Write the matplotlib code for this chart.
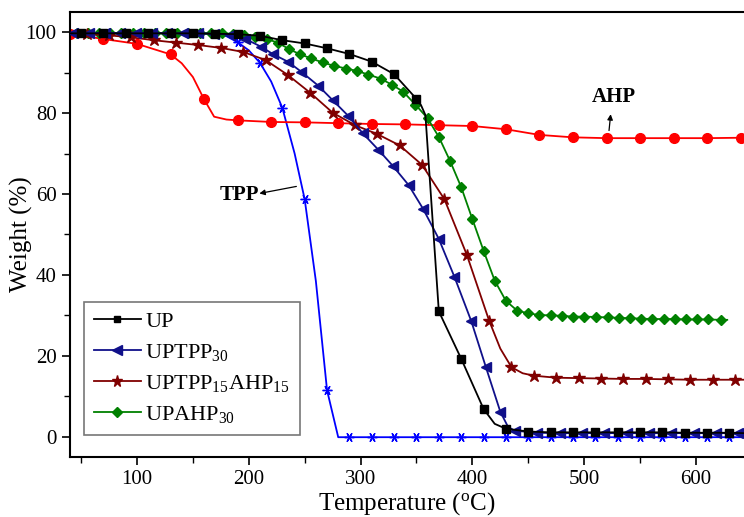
import numpy as np
import matplotlib
matplotlib.use("Agg")
import matplotlib.pyplot as plt

plt.rcParams['font.family'] = ['Liberation Serif', 'DejaVu Serif']
plt.rcParams['mathtext.fontset'] = 'custom'
plt.rcParams['mathtext.rm'] = 'Liberation Serif'
plt.rcParams['mathtext.it'] = 'Liberation Serif:italic'

# --- data (temperature in C, weight in %) ---
# points listed in *_nomark carry the line only, no marker
up_T = [40, 50, 70, 90, 110, 130, 150, 170, 190, 210, 230, 250, 270, 290, 310, 330, 350,
        354, 358, 370, 390, 410, 420, 430, 450, 470, 490, 510, 530, 550, 570, 590, 610, 630, 643]
up_W = [99.7, 99.7, 99.7, 99.7, 99.7, 99.7, 99.7, 99.6, 99.5, 99.1, 98.0, 97.2, 96.0, 94.6, 92.7, 89.6, 83.5,
        82.0, 79.5, 31.0, 19.3, 6.9, 3.2, 2.0, 1.3, 1.1, 1.1, 1.1, 1.1, 1.1, 1.1, 1.0, 1.0, 1.0, 0.9]
up_nomark = [40, 354, 358, 420, 643]

tpp30_T = [40, 43, 57, 71, 85, 99, 113, 127, 141, 155, 169, 183, 197, 211, 222, 235, 247, 262, 275,
           289, 302, 316, 329, 343, 356, 370, 384, 399, 412, 425, 432, 438, 458, 478, 498, 518,
           538, 558, 578, 598, 618, 638, 643]
tpp30_W = [99.8, 99.8, 99.8, 99.8, 99.8, 99.8, 99.8, 99.7, 99.7, 99.7, 99.6, 99.4, 98.3, 96.4, 94.5, 92.7,
           90.2, 86.8, 83.2, 79.3, 75.0, 70.9, 66.9, 62.2, 56.3, 48.9, 39.5, 28.6, 17.3, 6.2, 2.4, 1.5,
           1.0, 0.9, 0.9, 0.9, 0.9, 0.9, 0.9, 0.9, 0.9, 0.9, 0.9]
tpp30_nomark = [40, 432, 643]

mix_T = [40, 55, 75, 95, 115, 135, 155, 175, 195, 215, 235, 255, 275, 295, 315, 335, 355, 375,
         395, 415, 425, 435, 445, 455, 475, 495, 515, 535, 555, 575, 595, 615, 635, 643]
mix_W = [99.7, 99.5, 99.2, 98.7, 98.0, 97.4, 96.8, 96.1, 95.1, 93.1, 89.4, 85.0, 80.1, 77.0, 74.8,
         72.0, 67.2, 58.7, 45.0, 28.7, 21.8, 17.2, 15.7, 15.1, 14.6, 14.5, 14.4, 14.3, 14.3, 14.2,
         14.1, 14.1, 14.1, 14.1]
mix_nomark = [40, 425, 445, 643]

ahp30_T = [40, 46, 56, 66, 76, 86, 96, 106, 116, 126, 136, 146, 156, 166, 176, 186, 196, 206, 216,
           226, 236, 246, 256, 266, 276, 287, 297, 307, 318, 328, 338, 349, 360, 370, 380, 390,
           400, 410, 420, 430, 440, 450, 460, 470, 480, 490, 500, 511, 521, 531, 541, 551, 561,
           571, 581, 591, 601, 611, 622, 628]
ahp30_W = [99.8, 99.8, 99.8, 99.8, 99.8, 99.8, 99.8, 99.8, 99.8, 99.8, 99.8, 99.7, 99.7, 99.7, 99.7,
           99.6, 99.3, 98.8, 98.3, 97.4, 95.8, 94.5, 93.5, 92.5, 91.7, 91.0, 90.4, 89.5, 88.5, 87.0,
           85.3, 82.1, 78.7, 74.1, 68.2, 61.7, 53.8, 46.0, 38.6, 33.6, 31.2, 30.5, 30.1, 30.0, 29.9,
           29.7, 29.7, 29.6, 29.5, 29.4, 29.3, 29.2, 29.1, 29.1, 29.1, 29.0, 29.0, 29.0, 28.9, 28.9]
ahp30_nomark = [40, 628]

tpp_T = [40, 50, 70, 90, 110, 130, 150, 170, 180, 190, 200, 210, 220, 230, 241, 250, 260, 270, 280,
         290, 310, 330, 350, 370, 390, 410, 430, 450, 470, 490, 510, 530, 550, 570, 590, 610, 630, 643]
tpp_W = [99.8, 99.8, 99.8, 99.8, 99.8, 99.7, 99.7, 99.6, 99.0, 97.5, 95.5, 92.4, 87.8, 81.3, 70.0,
         58.7, 38.5, 11.5, -0.1, -0.1, -0.1, -0.1, -0.1, -0.1, -0.1, -0.1, -0.1, -0.1, -0.1, -0.1,
         -0.1, -0.1, -0.1, -0.1, -0.1, -0.1, -0.1, -0.1]
tpp_nomark = [40, 180, 200, 220, 241, 260, 280, 643]

ahp_T = [40, 70, 100, 130, 140, 150, 160, 169, 180, 190, 220, 250, 280, 310, 340, 370, 400, 430,
         460, 490, 520, 550, 580, 610, 640]
ahp_W = [99.6, 98.3, 97.1, 94.5, 92.3, 88.9, 83.4, 79.1, 78.4, 78.2, 77.8, 77.7, 77.5, 77.3, 77.2,
         77.0, 76.8, 76.0, 74.6, 74.0, 73.8, 73.8, 73.8, 73.8, 73.9]
ahp_nomark = [140, 150, 169, 180]


def marks(T, skip):
    return [i for i, t in enumerate(T) if t not in skip]


fig = plt.figure(figsize=(7.44, 5.17), dpi=100)
ax = fig.add_axes([0.094, 0.116, 0.906, 0.861])

lw = 1.3
ax.plot(tpp_T, tpp_W, color='#0000ff', lw=lw, marker=(6, 2, 90), ms=7, mew=1.0,
        markevery=marks(tpp_T, tpp_nomark), zorder=2)
ax.plot(ahp_T, ahp_W, color='#ff0000', lw=lw, marker='o', ms=7,
        markevery=marks(ahp_T, ahp_nomark), zorder=2)
ax.plot(ahp30_T, ahp30_W, color='#008000', lw=lw, marker='D', ms=5.5,
        markevery=marks(ahp30_T, ahp30_nomark), label='UPAHP$_{30}$', zorder=3)
ax.plot(mix_T, mix_W, color='#800000', lw=lw, marker='*', ms=9,
        markevery=marks(mix_T, mix_nomark), label='UPTPP$_{15}$AHP$_{15}$', zorder=3)
ax.plot(tpp30_T, tpp30_W, color='#10108a', lw=lw, marker='<', ms=7.5,
        markevery=marks(tpp30_T, tpp30_nomark), label='UPTPP$_{30}$', zorder=4)
ax.plot(up_T, up_W, color='black', lw=lw, marker='s', ms=5.5,
        markevery=marks(up_T, up_nomark), label='UP', zorder=5)

ax.set_xlim(40, 643)
ax.set_ylim(-5, 105)
ax.set_xticks([100, 200, 300, 400, 500, 600])
ax.set_xticks(np.arange(50, 650, 50), minor=True)
ax.set_yticks([0, 20, 40, 60, 80, 100])
ax.set_yticks(np.arange(0, 101, 10), minor=True)
ax.tick_params(which='major', direction='out', length=6, width=1.2, labelsize=15)
ax.tick_params(which='minor', direction='out', length=4, width=1.0)
ax.spines['right'].set_visible(False)
for s in ['left', 'bottom', 'top']:
    ax.spines[s].set_linewidth(1.5)

ax.set_xlabel('Temperature ($^{\\rm o}$C)', fontsize=18, labelpad=1)
ax.set_ylabel('Weight (%)', fontsize=18)
ax.yaxis.set_label_coords(-0.055, 0.5)

h, l = ax.get_legend_handles_labels()
leg = ax.legend(h[::-1], l[::-1], loc='lower left', bbox_to_anchor=(0.021, 0.049),
                borderaxespad=0, fontsize=16, frameon=True, fancybox=False,
                edgecolor='#555555', handlelength=2.1, handletextpad=0.2,
                labelspacing=0.45, borderpad=0.45, markerscale=0.9)
leg.get_frame().set_linewidth(1.2)

ax.annotate('TPP', xy=(192, 59.8), fontsize=15, fontweight='bold',
            ha='center', va='center')
ax.annotate('', xy=(207, 60.0), xytext=(245, 62.0),
            arrowprops=dict(arrowstyle='-|>', color='black', lw=0.9, mutation_scale=8))
ax.annotate('AHP', xy=(527, 84), fontsize=15, fontweight='bold', ha='center', va='center')
ax.annotate('', xy=(524, 80.4), xytext=(522, 75.0),
            arrowprops=dict(arrowstyle='-|>', color='black', lw=0.9, mutation_scale=8))

fig.savefig('out.png', dpi=100)
